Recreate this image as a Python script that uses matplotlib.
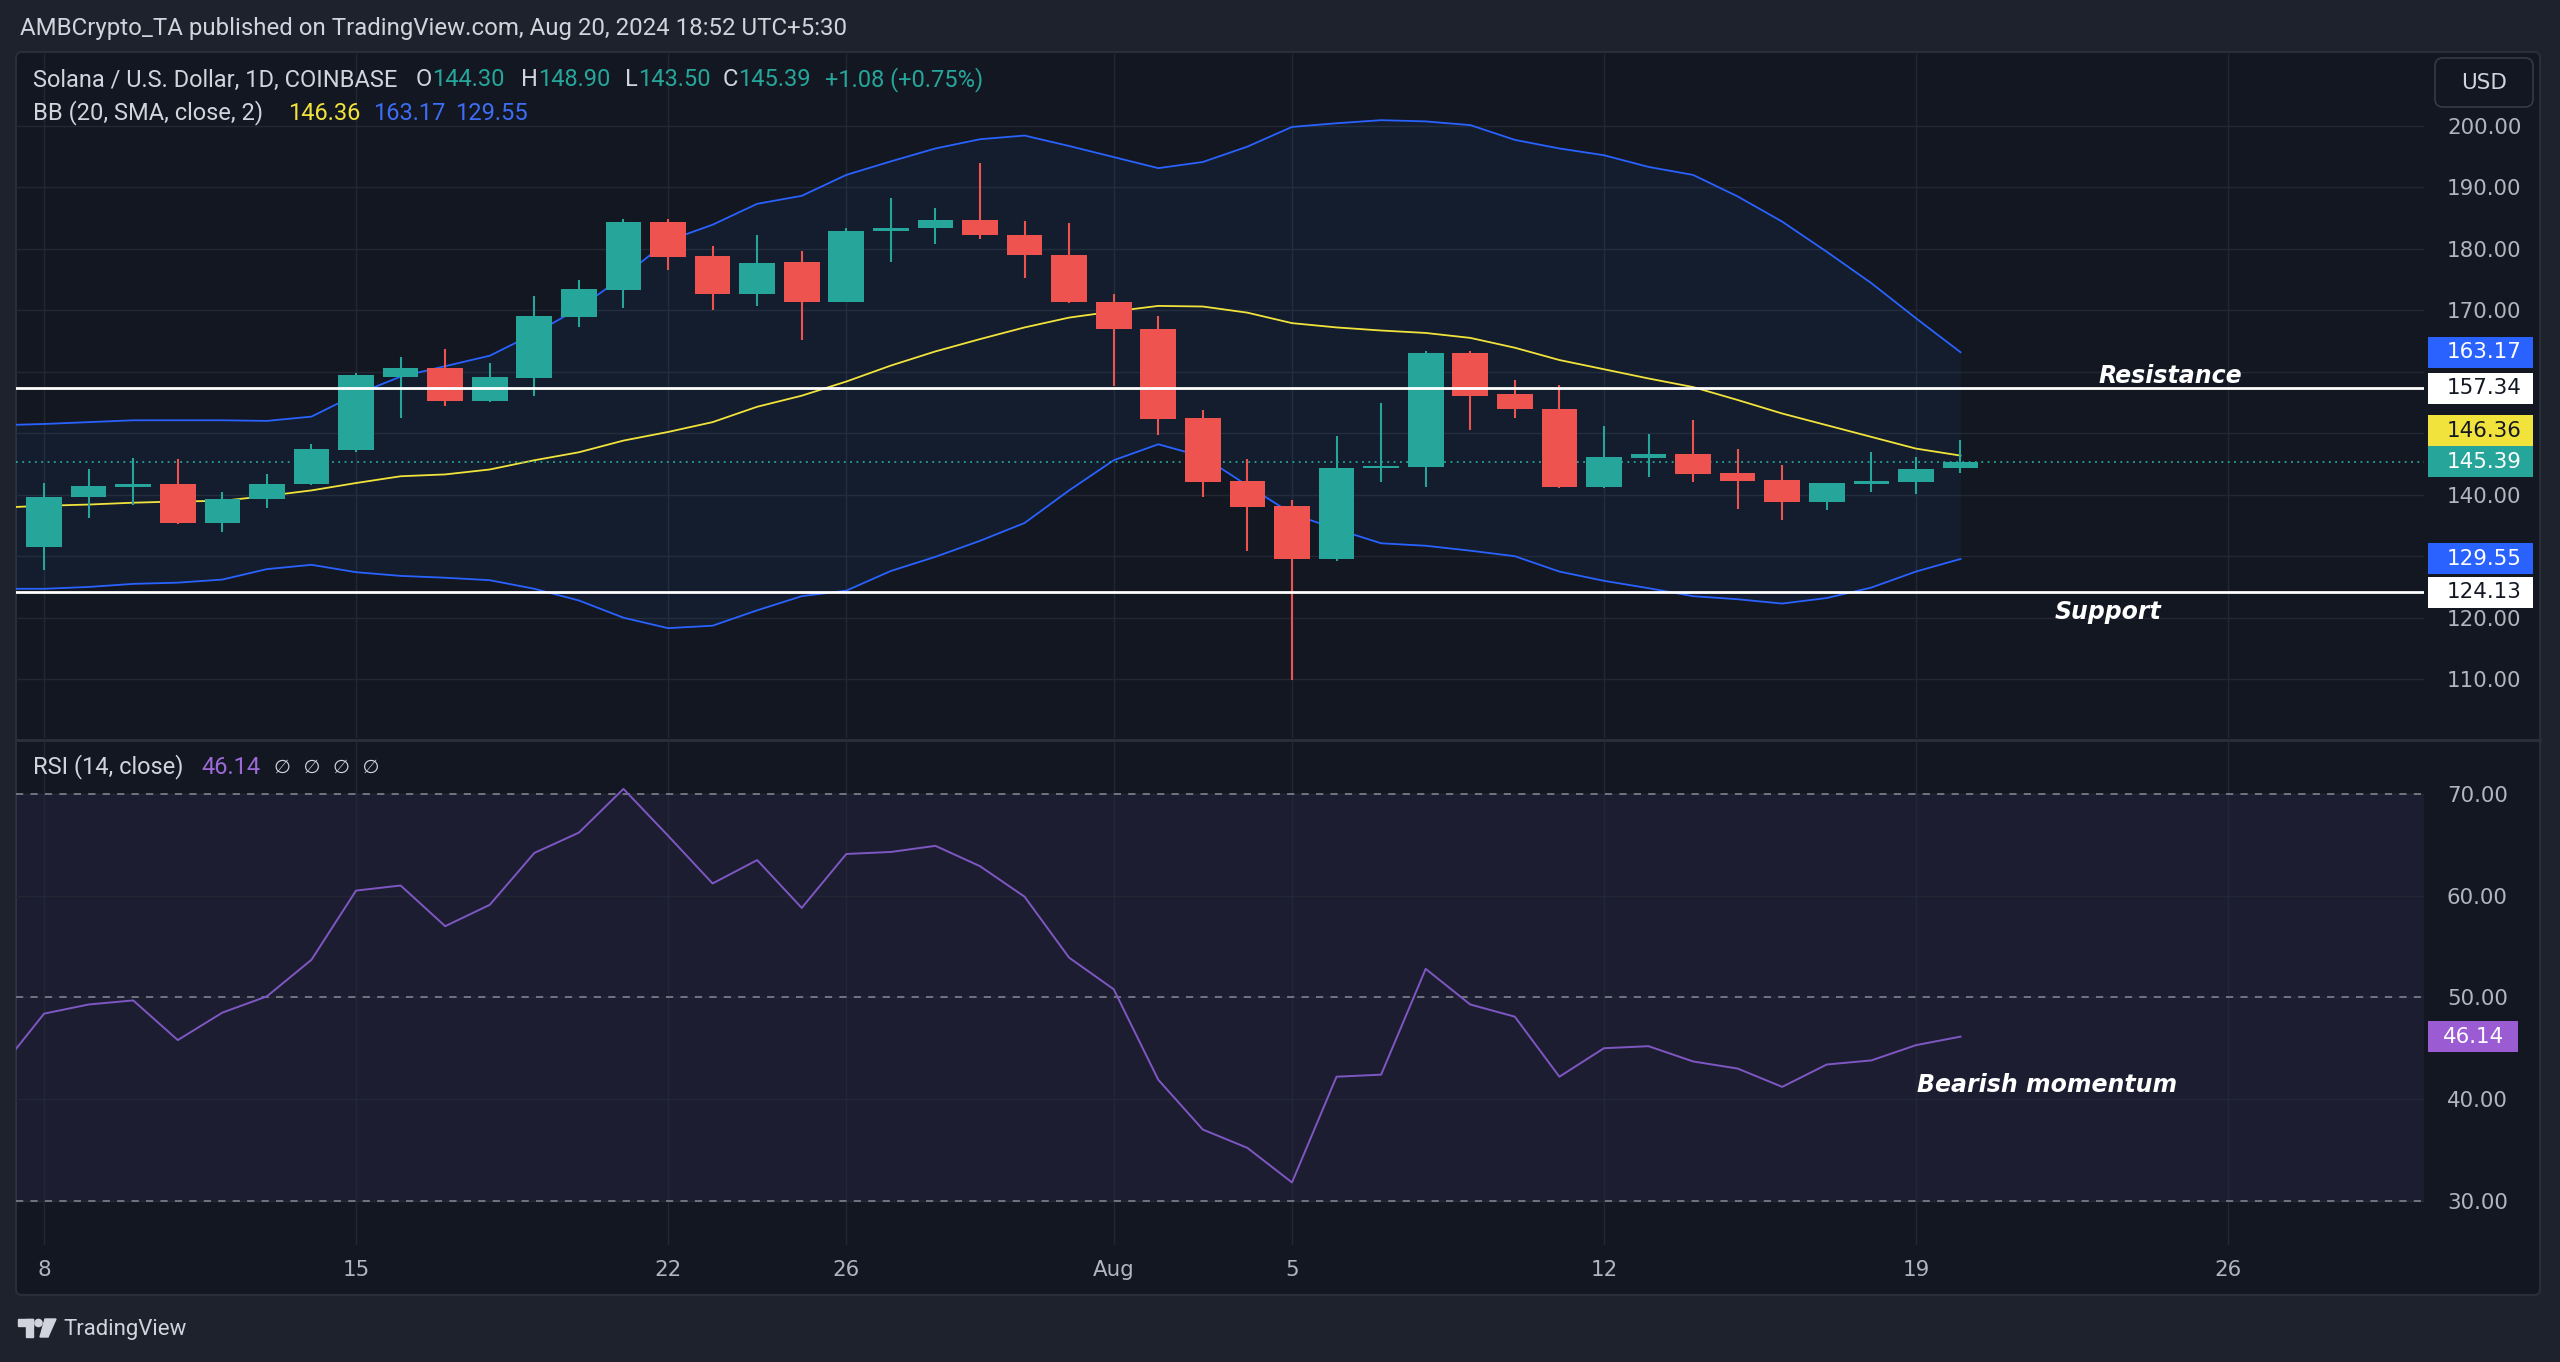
import numpy as np
import pandas as pd
import matplotlib
matplotlib.use("Agg")
import matplotlib.pyplot as plt
import matplotlib.dates as mdates
from matplotlib.patches import Rectangle, FancyBboxPatch, Circle, Polygon

W, H = 2560, 1362

# ---------------- data ----------------
candle_dates = pd.date_range("2024-07-08", "2024-08-20", freq="D")
opens = [131.5, 139.6, 141.2, 141.8, 135.4, 139.3, 141.7, 147.3, 159.2, 160.6,
         155.2, 159.0, 168.9, 173.3, 184.3, 178.8, 172.7, 177.9, 171.4, 182.8,
         183.3, 184.7, 182.3, 179.0, 171.4, 167.0, 152.5, 142.2, 138.2, 129.6,
         144.3, 144.5, 163.0, 156.3, 153.9, 141.2, 146.0, 146.6, 143.6, 142.4,
         138.8, 141.7, 142.1, 144.30]
highs = [141.9, 144.1, 146.0, 145.8, 140.4, 143.4, 148.3, 159.8, 162.4, 163.7,
         161.4, 172.3, 174.9, 184.9, 184.9, 180.5, 182.3, 179.6, 183.3, 188.2,
         186.6, 193.9, 184.5, 184.2, 172.7, 169.1, 153.7, 145.8, 139.2, 149.5,
         154.9, 163.4, 163.4, 158.7, 157.8, 151.1, 149.8, 152.2, 147.5, 144.8,
         141.9, 147.0, 146.2, 148.90]
lows = [127.8, 136.2, 138.3, 135.2, 133.9, 137.9, 141.6, 147.0, 152.4, 154.5,
        155.0, 156.0, 167.2, 170.3, 176.5, 170.1, 170.7, 165.2, 171.3, 177.8,
        180.8, 181.6, 175.2, 171.2, 157.6, 149.7, 139.6, 130.8, 109.9, 129.3,
        142.1, 141.3, 150.5, 152.4, 141.1, 141.1, 142.8, 142.1, 137.6, 135.9,
        137.5, 140.4, 140.1, 143.50]
closes = [139.7, 141.4, 141.8, 135.4, 139.3, 141.8, 147.5, 159.4, 160.6, 155.2,
          159.1, 169.0, 173.5, 184.3, 178.7, 172.7, 177.7, 171.4, 182.8, 183.3,
          184.7, 182.2, 178.9, 171.3, 166.9, 152.3, 142.1, 138.0, 129.6, 144.3,
          144.6, 163.0, 156.0, 153.9, 141.2, 146.1, 146.6, 143.4, 142.3, 138.8,
          141.9, 142.3, 144.1, 145.39]

# indicator lines start one day earlier so they run into the left edge
line_dates = pd.date_range("2024-07-07", "2024-08-20", freq="D")
bb_upper = [151.3, 151.5, 151.8, 152.1, 152.1, 152.1, 152.0, 152.7, 156.3, 159.2,
            160.9, 162.6, 166.2, 170.3, 175.5, 181.3, 183.9, 187.3, 188.6, 192.0,
            194.2, 196.3, 197.8, 198.4, 196.7, 194.9, 193.1, 194.1, 196.6, 199.8,
            200.4, 200.9, 200.7, 200.1, 197.7, 196.3, 195.2, 193.3, 192.0, 188.5,
            184.4, 179.5, 174.4, 168.7, 163.17]
bb_basis = [137.9, 138.2, 138.4, 138.7, 138.9, 139.0, 139.8, 140.7, 141.9, 143.0,
            143.3, 144.1, 145.6, 146.9, 148.8, 150.2, 151.8, 154.3, 156.1, 158.4,
            161.0, 163.3, 165.3, 167.2, 168.8, 169.8, 170.7, 170.6, 169.6, 167.9,
            167.2, 166.7, 166.3, 165.5, 163.9, 161.9, 160.4, 158.9, 157.5, 155.4,
            153.2, 151.3, 149.4, 147.5, 146.36]
bb_lower = [124.7, 124.7, 125.0, 125.5, 125.7, 126.2, 127.9, 128.6, 127.4, 126.8,
            126.5, 126.1, 124.7, 122.8, 120.0, 118.3, 118.7, 121.2, 123.5, 124.4,
            127.6, 129.9, 132.5, 135.4, 140.7, 145.6, 148.2, 146.2, 141.5, 136.9,
            134.4, 132.1, 131.7, 130.9, 130.0, 127.5, 126.0, 124.8, 123.5, 123.0,
            122.3, 123.2, 124.9, 127.5, 129.55]
rsi = [42.9, 48.4, 49.3, 49.7, 45.8, 48.5, 50.1, 53.7, 60.5, 61.0,
       57.0, 59.1, 64.2, 66.2, 70.5, 65.9, 61.2, 63.5, 58.8, 64.1,
       64.3, 64.9, 62.9, 59.9, 53.9, 50.8, 41.9, 37.0, 35.2, 31.8,
       42.2, 42.4, 52.8, 49.3, 48.1, 42.2, 45.0, 45.2, 43.7, 43.0,
       41.2, 43.4, 43.8, 45.3, 46.14]

resistance = 157.34
support = 124.13
last_price = 145.39

price_ticks = [110, 120, 130, 140, 150, 160, 170, 180, 190, 200]
rsi_ticks = [30, 40, 50, 60, 70]
rsi_levels = [30, 50, 70]
xtick_dates = ["2024-07-08", "2024-07-15", "2024-07-22", "2024-07-26", "2024-08-01",
               "2024-08-05", "2024-08-12", "2024-08-19", "2024-08-26"]
xtick_labels = ["8", "15", "22", "26", "Aug", "5", "12", "19", "26"]

# ---------------- colours ----------------
OUTER = "#1e222d"
BG = "#131722"
GRID = "#232734"
TXT = "#d1d4dc"
AXTXT = "#b2b5be"
UP = "#26a69a"
DOWN = "#ef5350"
BLUE = "#2962ff"
YELLOW = "#f2e33c"
PURPLE = "#7e57c2"
SANS = ["Roboto", "DejaVu Sans"]

plt.rcParams["font.family"] = ["DejaVu Sans"]


def frac(x0, y0, x1, y1):
    return [x0 / W, 1 - y1 / H, (x1 - x0) / W, (y1 - y0) / H]


fig = plt.figure(figsize=(W / 100, H / 100), dpi=100, facecolor=OUTER)

# background frame
ax_bg = fig.add_axes([0, 0, 1, 1], zorder=-5)
ax_bg.set_xlim(0, W)
ax_bg.set_ylim(H, 0)
ax_bg.axis("off")
ax_bg.add_patch(FancyBboxPatch((16, 52), 2524, 1243, boxstyle="round,pad=0,rounding_size=6",
                               facecolor=BG, edgecolor="#2a2e39", linewidth=1.5))
ax_bg.plot([16, 2540], [739.5, 739.5], color="#2a2e39", lw=2.2)

ax = fig.add_axes(frac(16, 54, 2424, 738))
ax_r = fig.add_axes(frac(16, 741, 2424, 1245), sharex=ax)

x_c = mdates.date2num(candle_dates)
x_l = mdates.date2num(line_dates)
d0 = x_c[0]

for a in (ax, ax_r):
    a.set_facecolor("none")
    for s in a.spines.values():
        s.set_visible(False)
    a.set_axisbelow(True)
    a.grid(True, color=GRID, lw=1.0)
    a.yaxis.tick_right()
    a.tick_params(axis="y", length=0, pad=16.5, labelsize=15.4, labelcolor=AXTXT)
    a.yaxis.set_major_formatter(matplotlib.ticker.FormatStrFormatter("%.2f"))

ax.set_xlim(d0 - 0.63, d0 + 53.4)
ax.set_ylim(100.44, 211.66)
ax.set_yticks(price_ticks)
ax.tick_params(axis="x", length=0, labelbottom=False)

# bollinger bands
ax.fill_between(x_l, bb_lower, bb_upper, color="#2196f3", alpha=0.055, lw=0, zorder=1)
ax.plot(x_l, bb_upper, color=BLUE, lw=1.3, zorder=2)
ax.plot(x_l, bb_lower, color=BLUE, lw=1.3, zorder=2)
ax.plot(x_l, bb_basis, color=YELLOW, lw=1.3, zorder=2)

# candles
o = np.array(opens)
c = np.array(closes)
cols = np.where(c >= o, UP, DOWN)
ax.vlines(x_c, lows, highs, colors=cols, lw=1.5, zorder=3)
ax.bar(x_c, np.abs(c - o), bottom=np.minimum(o, c), width=0.8, color=cols, lw=0, zorder=4)

# levels
ax.axhline(resistance, color="white", lw=2.0, zorder=5)
ax.axhline(support, color="white", lw=2.0, zorder=5)
ax.axhline(last_price, color=UP, lw=1.3, ls=(0, (1, 2.5)), zorder=2)

ann = dict(color="white", fontsize=17, fontweight="bold", fontstyle="italic",
           ha="center", va="baseline", textcoords="offset points", zorder=6)
ax.annotate("Resistance", xy=(d0 + 47.7, resistance), xytext=(0, 4), **ann)
ax.annotate("Support", xy=(d0 + 46.3, support), xytext=(0, -19), **ann)

# price badges (stacked like the price scale does)
badge_h = 31 / 6.15
badges = [(129.55, BLUE, "white"), (124.13, "white", BG), (145.39, UP, "white"),
          (146.36, YELLOW, BG), (163.17, BLUE, "white"), (157.34, "white", BG)]
placed = []
for val, fc, tc in sorted(badges, key=lambda b: b[0]):
    yc = val
    for p in placed:
        if abs(yc - p) < badge_h:
            yc = p + badge_h
    placed.append(yc)
    ax.add_patch(Rectangle((1.0017, yc - badge_h / 2), 0.0436, badge_h,
                           transform=ax.get_yaxis_transform(), facecolor=fc,
                           edgecolor="none", clip_on=False, zorder=10))
    ax.text(1.0251, yc, f"{val:.2f}", transform=ax.get_yaxis_transform(), color=tc,
            fontsize=15.4, ha="center", va="center", clip_on=False, zorder=11)

# the scale labels that sit under a badge are hidden, as on the price scale
fig.canvas.draw()
for tv, lab in zip(ax.get_yticks(), ax.get_yticklabels()):
    if any(abs(tv - p) < badge_h * 0.6 for p in placed):
        lab.set_visible(False)

# ---------------- RSI ----------------
ax_r.set_ylim(25.65, 75.21)
ax_r.set_yticks(rsi_ticks)
ax_r.axhspan(rsi_levels[0], rsi_levels[-1], color=PURPLE, alpha=0.1, lw=0, zorder=0)
for lv in rsi_levels:
    ax_r.axhline(lv, color="#787b86", lw=1.3, ls=(0, (4, 4)), zorder=1)
ax_r.plot(x_l, rsi, color=PURPLE, lw=1.4, zorder=3)
ax_r.annotate("Bearish momentum", xy=(d0 + 44.94, 40.73), xytext=(0, 0), **ann)

ax_r.set_xticks(mdates.date2num(pd.to_datetime(xtick_dates)))
ax_r.set_xticklabels(xtick_labels)
ax_r.tick_params(axis="x", length=0, pad=11, labelsize=15.4, labelcolor=AXTXT)

rb_h = 31 / 10.17
ax_r.add_patch(Rectangle((1.0017, rsi[-1] - rb_h / 2), 0.0374, rb_h,
                         transform=ax_r.get_yaxis_transform(), facecolor="#9a5bd3",
                         edgecolor="none", clip_on=False, zorder=10))
ax_r.text(1.0204, rsi[-1], f"{rsi[-1]:.2f}", transform=ax_r.get_yaxis_transform(),
          color="white", fontsize=15.4, ha="center", va="center", clip_on=False, zorder=11)

# ---------------- overlay texts ----------------
ov = fig.add_axes([0, 0, 1, 1], zorder=10)
ov.set_xlim(0, W)
ov.set_ylim(H, 0)
ov.axis("off")
ov.patch.set_alpha(0)
r = fig.canvas.get_renderer()


def put(x, y, s, color, size=17, family=SANS):
    t = ov.text(x, y, s, color=color, fontsize=size, family=family, ha="left", va="center")
    return t.get_window_extent(renderer=r).x1


put(20, 29, "AMBCrypto_TA published on TradingView.com, Aug 20, 2024 18:52 UTC+5:30", TXT, 17.3)

put(33, 80, "Solana / U.S. Dollar, 1D, COINBASE", TXT)
for x0, letter, val in [(416, "O", opens[-1]), (521, "H", highs[-1]),
                        (625, "L", lows[-1]), (723, "C", closes[-1])]:
    xe = put(x0, 80, letter, TXT)
    put(xe, 80, f"{val:.2f}", UP)
put(825, 80, "+1.08 (+0.75%)", UP)

put(33, 113, "BB (20, SMA, close, 2)", TXT)
put(288, 113, f"{bb_basis[-1]:.2f}", YELLOW)
put(373, 113, f"{bb_upper[-1]:.2f}", "#3d6df5")
put(455, 113, f"{bb_lower[-1]:.2f}", "#3d6df5")

put(33, 767, "RSI (14, close)", TXT)
put(201, 767, f"{rsi[-1]:.2f}", "#9c6ad6")
put(274, 767, "\u2205  \u2205  \u2205  \u2205", TXT, 14, ["DejaVu Sans"])

# USD button
ov.add_patch(FancyBboxPatch((2435, 58), 98, 49, boxstyle="round,pad=0,rounding_size=8",
                            facecolor=BG, edgecolor="#363a45", lw=1.2))
ov.text(2484, 83, "USD", color=TXT, fontsize=15.5, ha="center", va="center")

# TradingView footer logo
lg = "#d1d4dc"
ov.add_patch(Rectangle((18, 1319), 15, 7, color=lg))
ov.add_patch(Rectangle((26, 1319), 7, 18, color=lg))
ov.add_patch(Circle((38.5, 1323), 3.6, color=lg))
ov.add_patch(Polygon([(45, 1319), (56, 1319), (48, 1337), (40, 1337)], color=lg))
put(63, 1330, "TradingView", lg, 16)

fig.savefig("out.png", dpi=100, facecolor=OUTER)
